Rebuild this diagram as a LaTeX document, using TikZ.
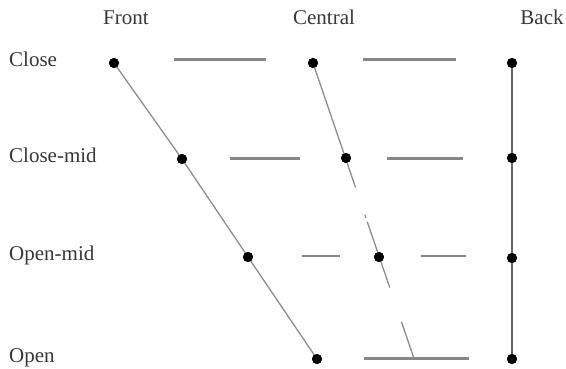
\documentclass[tikz,border=0pt]{standalone}
\usepackage{fontspec}
\setmainfont{Liberation Serif}
\usetikzlibrary{calc}
\definecolor{linegray}{RGB}{135,135,135}
\definecolor{thingray}{RGB}{140,140,140}
\definecolor{backgray}{RGB}{100,100,100}
\definecolor{textgray}{RGB}{55,55,55}
\begin{document}
\begin{tikzpicture}[x=1pt,y=-1pt,
  dot/.style={circle,fill=black,inner sep=0pt,minimum size=10pt},
  lbl/.style={anchor=base west,inner sep=0pt,text=textgray,font=\fontsize{21}{24}\selectfont},
  hdr/.style={anchor=base,inner sep=0pt,text=textgray,font=\fontsize{21}{24}\selectfont},
  hline/.style={draw=linegray,line width=2.6pt},
  diag/.style={draw=thingray,line width=1.3pt},
  backline/.style={draw=backgray,line width=2.3pt}]
\useasboundingbox (0,0) rectangle (566,369);
% headers
\node[hdr] (hf) at (126,25) {Front};
\node[hdr] (hc) at (324,25) {Central};
\node[hdr] (hb) at (542,25) {Back};
% row labels
\node[lbl] (lc) at (9,67) {Close};
\node[lbl] (lcm) at (9,163) {Close-mid};
\node[lbl] (lom) at (9,261) {Open-mid};
\node[lbl] (lo) at (9,362) {Open};
% dots
\node[dot] (fc) at (114,63) {};
\node[dot] (fcm) at (182,159) {};
\node[dot] (fom) at (248,257) {};
\node[dot] (fo) at (317,359) {};
\node[dot] (cc) at (313,63) {};
\node[dot] (ccm) at (346,158) {};
\node[dot] (com) at (379,257) {};
\node[dot] (bc) at (512,63) {};
\node[dot] (bcm) at (512,158) {};
\node[dot] (bom) at (512,258) {};
\node[dot] (bo) at (512,359) {};
% horizontal segment ends
\coordinate (h1a) at (174,59.5); \coordinate (h1b) at (266,59.5);
\coordinate (h2a) at (363,59.5); \coordinate (h2b) at (456,59.5);
\coordinate (h3a) at (230,158.5); \coordinate (h3b) at (300,158.5);
\coordinate (h4a) at (387,158.5); \coordinate (h4b) at (463,158.5);
\coordinate (h5a) at (302,256); \coordinate (h5b) at (340,256);
\coordinate (h6a) at (421,256); \coordinate (h6b) at (466,256);
\coordinate (h7a) at (364,358.5); \coordinate (h7b) at (469,358.5);
\coordinate (co) at (414,358.5);
% back line
\draw[backline] (bc.center) -- (bo.center);
% front diagonal
\draw[diag] (fc.center) -- (fcm.center) -- (fom.center) -- (fo.center);
% central diagonal with gaps
\draw[diag] (cc.center) -- ($(cc.center)!0.422!(co)$);
\draw[diag] ($(cc.center)!0.514!(co)$) -- ($(cc.center)!0.524!(co)$);
\draw[diag] ($(cc.center)!0.537!(co)$) -- ($(cc.center)!0.760!(co)$);
\draw[diag] ($(cc.center)!0.875!(co)$) -- (co);
% horizontals
\draw[hline] (h1a) -- (h1b);
\draw[hline] (h2a) -- (h2b);
\draw[hline] (h3a) -- (h3b);
\draw[hline] (h4a) -- (h4b);
\draw[hline] (h5a) -- (h5b);
\draw[hline] (h6a) -- (h6b);
\draw[hline] (h7a) -- (h7b);
% dots on top
\foreach \n in {fc,fcm,fom,fo,cc,ccm,com,bc,bcm,bom,bo}
  \fill[black] (\n.center) circle (5pt);
\end{tikzpicture}
\end{document}
